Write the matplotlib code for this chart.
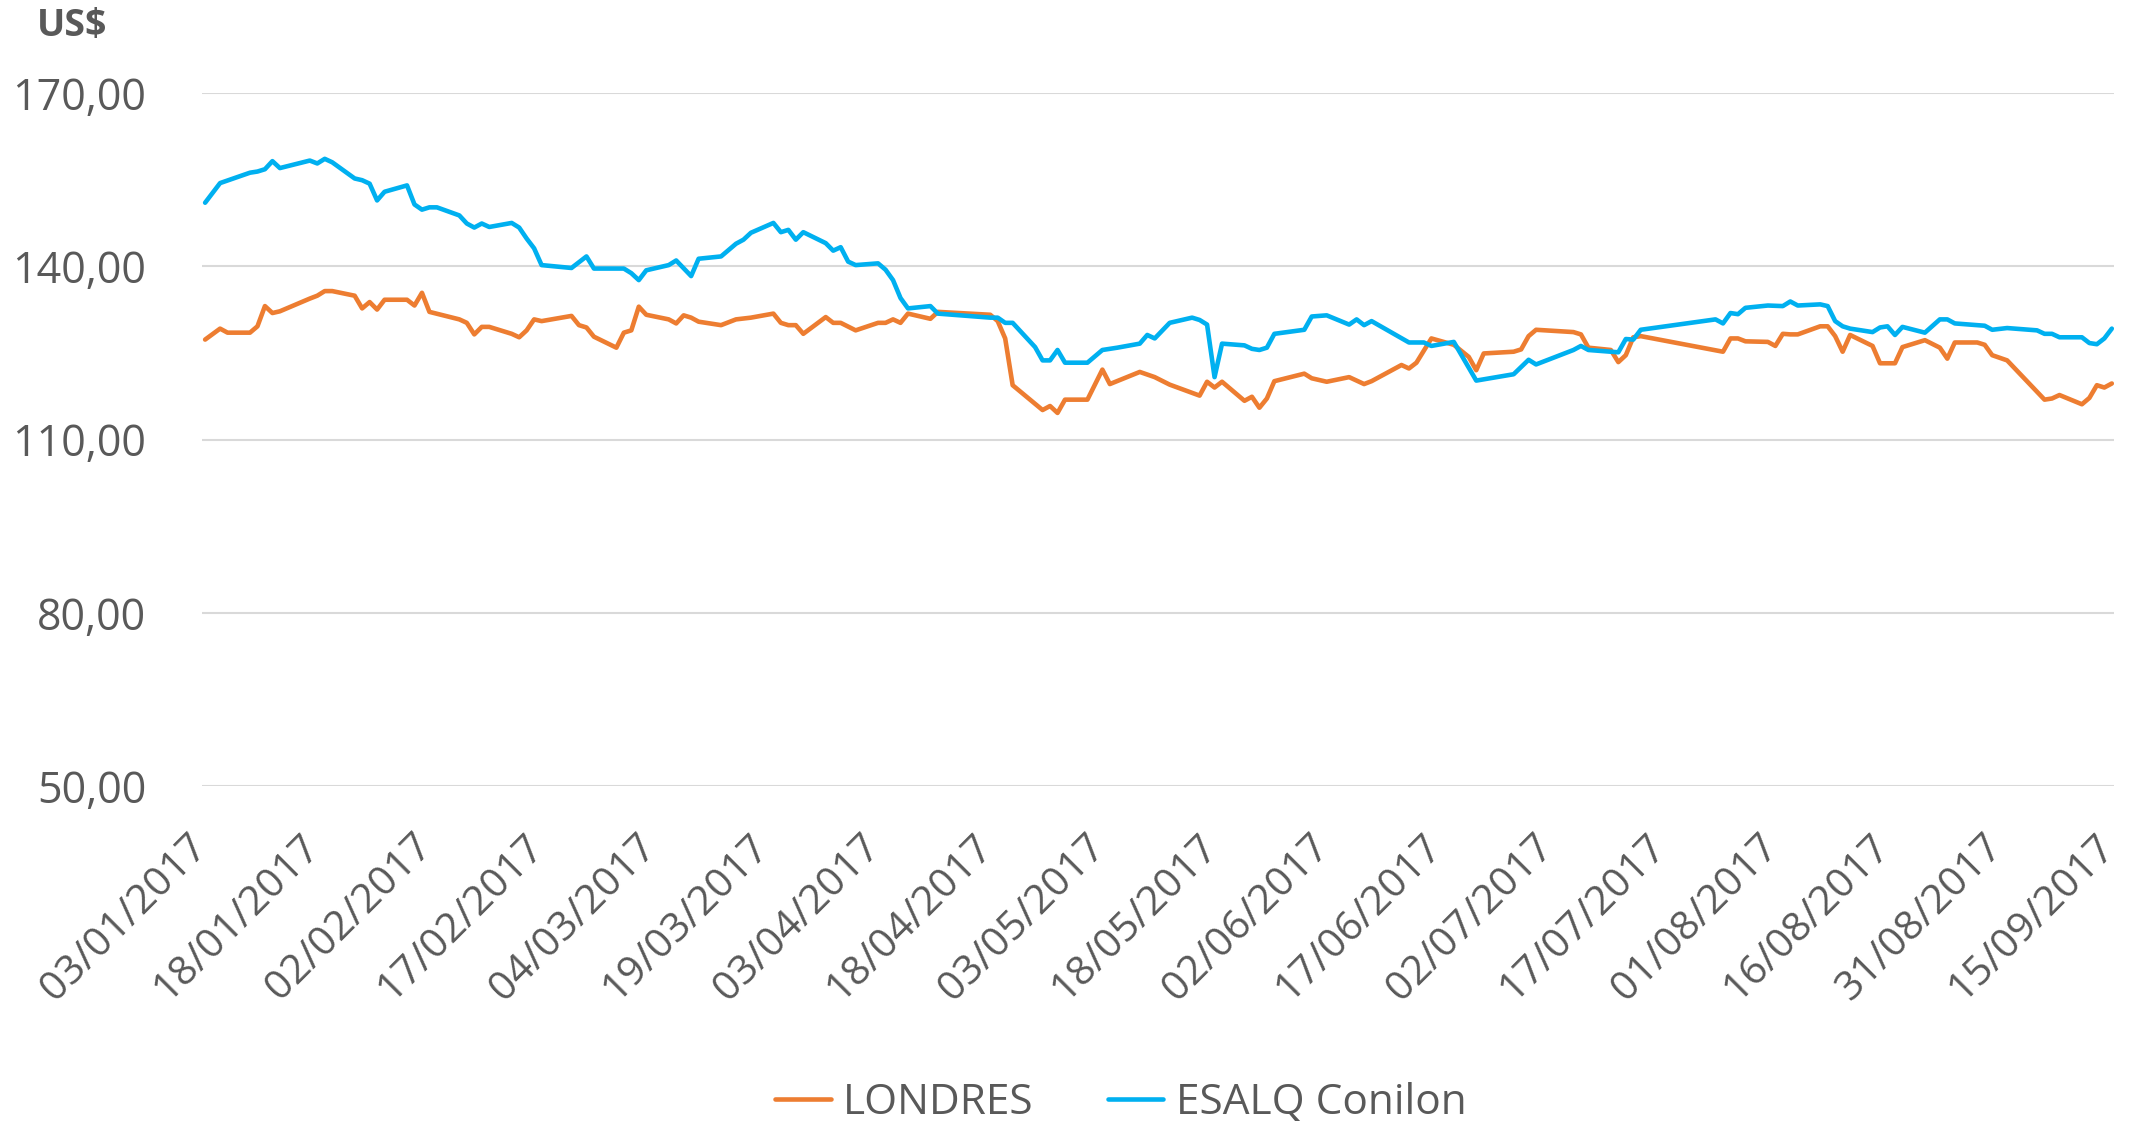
import pandas as pd
import matplotlib.pyplot as plt
import matplotlib.dates as mdates
import matplotlib.transforms as mtransforms
from matplotlib.ticker import FuncFormatter

plt.rcParams['font.family'] = ['Open Sans', 'DejaVu Sans']

# LONDRES (US$)
londres_dates = [
    '03/01', '05/01', '06/01', '09/01', '10/01', '11/01', '12/01', '13/01', '17/01', '18/01',
    '19/01', '20/01', '23/01', '24/01', '25/01', '26/01', '27/01', '30/01', '31/01', '01/02',
    '02/02', '06/02', '07/02', '08/02', '09/02', '10/02', '13/02', '14/02', '15/02', '16/02',
    '17/02', '21/02', '22/02', '23/02', '24/02', '27/02', '28/02', '01/03', '02/03', '03/03',
    '06/03', '07/03', '08/03', '09/03', '10/03', '13/03', '15/03', '17/03', '20/03', '21/03',
    '22/03', '23/03', '24/03', '27/03', '28/03', '29/03', '31/03', '03/04', '04/04', '05/04',
    '06/04', '07/04', '10/04', '11/04', '18/04', '19/04', '20/04', '21/04', '25/04', '26/04',
    '27/04', '28/04', '01/05', '03/05', '04/05', '08/05', '10/05', '12/05', '16/05', '17/05',
    '18/05', '19/05', '22/05', '23/05', '24/05', '25/05', '26/05', '30/05', '31/05', '02/06',
    '05/06', '07/06', '08/06', '12/06', '13/06', '14/06', '16/06', '19/06', '21/06', '22/06',
    '23/06', '27/06', '28/06', '29/06', '30/06', '05/07', '06/07', '07/07', '10/07', '11/07',
    '12/07', '13/07', '14/07', '25/07', '26/07', '27/07', '28/07', '31/07', '01/08', '02/08',
    '03/08', '04/08', '07/08', '08/08', '09/08', '10/08', '11/08', '14/08', '15/08', '16/08',
    '17/08', '18/08', '21/08', '23/08', '24/08', '25/08', '28/08', '29/08', '30/08', '01/09',
    '06/09', '07/09', '08/09', '11/09', '12/09', '13/09', '14/09', '15/09',
]
londres = [
    127.3, 129.2, 128.5, 128.5, 129.6, 133.1, 131.9, 132.2, 134.4, 134.9,
    135.7, 135.7, 134.9, 132.7, 133.8, 132.5, 134.2, 134.2, 133.2, 135.4,
    132.1, 130.8, 130.2, 128.2, 129.5, 129.5, 128.3, 127.7, 128.9, 130.8,
    130.5, 131.4, 129.8, 129.4, 127.8, 125.9, 128.5, 128.9, 133.0, 131.6,
    130.8, 130.1, 131.5, 131.1, 130.4, 129.8, 130.8, 131.1, 131.8, 130.2,
    129.8, 129.8, 128.3, 131.2, 130.2, 130.2, 128.9, 130.2, 130.2, 130.8,
    130.2, 131.8, 130.9, 132.1, 131.6, 130.5, 127.5, 119.4, 115.1, 115.8,
    114.6, 116.9, 116.9, 122.1, 119.6, 121.7, 120.8, 119.5, 117.6, 120.0,
    119.0, 120.0, 116.7, 117.4, 115.5, 117.1, 120.1, 121.4, 120.6, 120.0,
    120.8, 119.6, 120.1, 122.9, 122.3, 123.3, 127.5, 126.4, 124.3, 122.0,
    124.9, 125.2, 125.6, 127.9, 129.0, 128.6, 128.2, 125.9, 125.5, 123.4,
    124.6, 127.7, 127.9, 125.2, 127.5, 127.5, 127.0, 126.9, 126.2, 128.3,
    128.2, 128.2, 129.6, 129.6, 127.9, 125.2, 128.1, 126.2, 123.2, 123.2,
    123.2, 126.0, 127.2, 125.9, 124.0, 126.8, 126.8, 126.4, 124.6, 123.7,
    116.9, 117.1, 117.7, 116.1, 117.2, 119.4, 119.0, 119.7,
]

# ESALQ Conilon (US$)
esalq_dates = [
    '03/01', '05/01', '09/01', '10/01', '11/01', '12/01', '13/01', '17/01', '18/01', '19/01',
    '20/01', '23/01', '24/01', '25/01', '26/01', '27/01', '30/01', '31/01', '01/02', '02/02',
    '03/02', '06/02', '07/02', '08/02', '09/02', '10/02', '13/02', '14/02', '15/02', '16/02',
    '17/02', '21/02', '23/02', '24/02', '28/02', '01/03', '02/03', '03/03', '06/03', '07/03',
    '09/03', '10/03', '13/03', '15/03', '16/03', '17/03', '20/03', '21/03', '22/03', '23/03',
    '24/03', '27/03', '28/03', '29/03', '30/03', '31/03', '03/04', '04/04', '05/04', '06/04',
    '07/04', '10/04', '11/04', '18/04', '19/04', '20/04', '21/04', '24/04', '25/04', '26/04',
    '27/04', '28/04', '01/05', '03/05', '05/05', '08/05', '09/05', '10/05', '12/05', '15/05',
    '16/05', '17/05', '18/05', '19/05', '22/05', '23/05', '24/05', '25/05', '26/05', '30/05',
    '31/05', '02/06', '05/06', '06/06', '07/06', '08/06', '13/06', '15/06', '16/06', '19/06',
    '22/06', '27/06', '29/06', '30/06', '05/07', '06/07', '07/07', '11/07', '12/07', '13/07',
    '14/07', '24/07', '25/07', '26/07', '27/07', '28/07', '31/07', '02/08', '03/08', '04/08',
    '07/08', '08/08', '09/08', '10/08', '11/08', '14/08', '15/08', '16/08', '17/08', '18/08',
    '21/08', '23/08', '24/08', '25/08', '29/08', '30/08', '01/09', '05/09', '06/09', '07/09',
    '08/09', '11/09', '12/09', '13/09', '14/09', '15/09',
]
esalq = [
    151.0, 154.4, 156.2, 156.4, 156.8, 158.2, 157.0, 158.3, 157.8, 158.6,
    158.0, 155.2, 154.9, 154.3, 151.4, 152.9, 154.0, 150.7, 149.8, 150.2,
    150.2, 148.8, 147.4, 146.7, 147.4, 146.8, 147.5, 146.7, 144.8, 143.1,
    140.2, 139.7, 141.7, 139.6, 139.6, 138.8, 137.6, 139.3, 140.2, 141.0,
    138.3, 141.3, 141.7, 143.9, 144.6, 145.8, 147.5, 145.9, 146.3, 144.6,
    145.9, 144.0, 142.7, 143.3, 140.8, 140.2, 140.5, 139.4, 137.6, 134.5,
    132.7, 133.1, 131.8, 131.1, 131.1, 130.2, 130.2, 126.0, 123.7, 123.7,
    125.5, 123.3, 123.3, 125.5, 125.9, 126.6, 128.1, 127.5, 130.2, 131.1,
    130.7, 129.9, 120.8, 126.6, 126.3, 125.7, 125.5, 125.9, 128.3, 129.0,
    131.3, 131.5, 129.9, 130.8, 129.8, 130.5, 126.8, 126.8, 126.2, 126.9,
    120.2, 121.3, 123.8, 123.0, 125.5, 126.2, 125.5, 125.1, 127.4, 127.3,
    129.0, 130.8, 130.1, 131.9, 131.7, 132.8, 133.2, 133.1, 133.9, 133.2,
    133.4, 133.1, 130.5, 129.6, 129.2, 128.6, 129.4, 129.6, 128.1, 129.5,
    128.5, 130.8, 130.8, 130.1, 129.7, 129.0, 129.3, 128.9, 128.3, 128.3,
    127.7, 127.7, 126.7, 126.5, 127.5, 129.2,
]

y_ticks = [50, 80, 110, 140, 170]


def to_dates(days):
    return pd.to_datetime([d + '/2017' for d in days], format='%d/%m/%Y')


londres_x = to_dates(londres_dates)
esalq_x = to_dates(esalq_dates)
start, end = londres_x[0], londres_x[-1]

text_color = '#595959'

fig = plt.figure(figsize=(21.36, 11.22), dpi=100)
ax = fig.add_axes([202 / 2136, 1 - 786 / 1122, (2114 - 202) / 2136, (786 - 93) / 1122])

ax.plot(londres_x, londres, color='#ED7D31', lw=3.3, solid_joinstyle='round',
        solid_capstyle='round', label='LONDRES', zorder=3)
ax.plot(esalq_x, esalq, color='#00B0F0', lw=3.3, solid_joinstyle='round',
        solid_capstyle='round', label='ESALQ Conilon', zorder=3)

ax.set_ylim(50, 170)
ax.set_yticks(y_ticks)
ax.yaxis.set_major_formatter(FuncFormatter(lambda v, p: f'{v:.2f}'.replace('.', ',')))
ax.grid(axis='y', color='#D9D9D9', lw=1.5)
ax.set_axisbelow(True)

ax.set_xlim(start - pd.Timedelta(hours=10), end + pd.Timedelta(hours=7))
ax.set_xticks(pd.date_range(start, end, freq='15D'))
ax.xaxis.set_major_formatter(mdates.DateFormatter('%d/%m/%Y'))

for s in ax.spines.values():
    s.set_visible(False)

ax.tick_params(axis='y', length=0, pad=40, labelsize=31, labelcolor=text_color)
ax.tick_params(axis='x', length=0, pad=29, labelsize=29.5, labelcolor=text_color)
shift = mtransforms.ScaledTranslation(11 / 100, 0, fig.dpi_scale_trans)
for lab in ax.get_xticklabels():
    lab.set_rotation(45)
    lab.set_ha('right')
    lab.set_transform(lab.get_transform() + shift)

fig.text(37 / 2136, 1 - 26 / 1122, 'US$', fontsize=27, fontweight='bold',
         color=text_color, va='center', ha='left')

fig.legend(loc='center', bbox_to_anchor=(1121 / 2136, 0.017), ncol=2, frameon=False,
           fontsize=30.5, labelcolor=text_color, handlelength=1.3, handletextpad=0.3,
           columnspacing=1.75)

fig.savefig('out.png', dpi=100)
